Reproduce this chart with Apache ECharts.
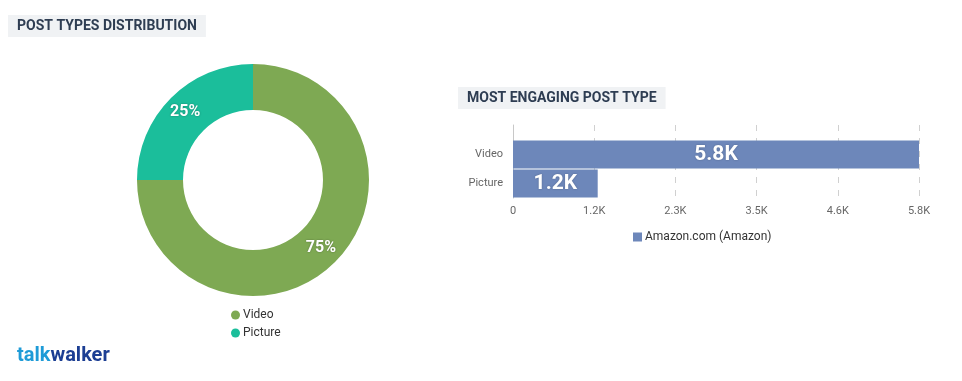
<!DOCTYPE html>
<html><head><meta charset="utf-8">
<script src="https://cdn.jsdelivr.net/npm/echarts@6/dist/echarts.min.js"></script>
<style>html,body{margin:0;padding:0;background:#fff}#c{width:962px;height:381px}</style>
</head><body><div id="c"></div>
<script>
const pieCategories = ['Video', 'Picture'];
const pieValues = [75, 25];
const pieColors = ['#7EA953', '#1BBE9B'];
const barCategories = ['Picture', 'Video'];
const barValues = [1210, 5800];
const barSeriesName = 'Amazon.com (Amazon)';
const axisMax = 5800;
const axisInterval = 1160;

function fmtK(v) { return v === 0 ? '0' : (v / 1000).toFixed(1) + 'K'; }

const chart = echarts.init(document.getElementById('c'));
const titleStyle = { fontFamily: 'Roboto', fontSize: 14, fontWeight: 'bold', color: '#2E3D52' };
const condensed = '"Liberation Sans Narrow", Roboto';
chart.setOption({
  animation: false,
  title: [
    { text: 'POST TYPES DISTRIBUTION', left: 8, top: 15, padding: [4, 9, 4, 9], backgroundColor: '#F0F2F4', textStyle: titleStyle },
    { text: 'MOST ENGAGING POST TYPE', left: 458, top: 87, padding: [4, 9, 4, 9], backgroundColor: '#F0F2F4', textStyle: titleStyle }
  ],
  legend: [
    { data: pieCategories, orient: 'vertical', left: 226, top: 304, icon: 'circle', itemWidth: 9, itemHeight: 9, itemGap: 6, textStyle: { fontFamily: 'Roboto', fontSize: 12, color: '#333', padding: [0, 0, 0, -2] } },
    { data: [barSeriesName], left: 628, top: 226, icon: 'rect', itemWidth: 9, itemHeight: 9, textStyle: { fontFamily: 'Roboto', fontSize: 12, color: '#333', padding: [0, 0, 0, -2] } }
  ],
  grid: [
    { left: 513, right: 43, top: 125, bottom: 183 },
    { left: 513, right: 43, top: 140, bottom: 183 }
  ],
  xAxis: [
    { gridIndex: 0, type: 'value', min: 0, max: axisMax, interval: axisInterval,
      axisLine: { show: false }, axisTick: { show: false },
      axisLabel: { formatter: fmtK, color: '#666', fontFamily: 'Roboto', fontSize: 11, margin: 8 },
      splitLine: { show: true, lineStyle: { color: '#D0D0D0', type: [6, 7], width: 1 } } },
    { gridIndex: 1, type: 'value', min: 0, max: axisMax, interval: axisInterval, show: false }
  ],
  yAxis: [
    { gridIndex: 0, type: 'category', data: [''], axisLine: { show: true, lineStyle: { color: '#C8C8C8' } }, axisTick: { show: false }, axisLabel: { show: false }, splitLine: { show: false } },
    { gridIndex: 1, type: 'category', data: barCategories, axisLine: { show: false }, axisTick: { show: false },
      axisLabel: { color: '#666', fontFamily: 'Roboto', fontSize: 11, margin: 10 } }
  ],
  series: [
    { type: 'pie', name: 'Post types', center: [253, 180], radius: [70, 116], startAngle: 90, clockwise: true,
      data: pieCategories.map((n, i) => ({ name: n, value: pieValues[i], itemStyle: { color: pieColors[i] } })),
      label: { show: true, position: 'inside', formatter: '{d}%', color: '#fff', fontFamily: condensed, fontWeight: 'bold', fontSize: 16,
        textShadowColor: 'rgba(0,0,0,0.35)', textShadowBlur: 2 },
      labelLine: { show: false }, emphasis: { disabled: true } },
    { type: 'bar', name: barSeriesName, xAxisIndex: 1, yAxisIndex: 1, data: barValues, barWidth: 28,
      itemStyle: { color: '#6D87BA' },
      label: { show: true, position: 'inside', formatter: p => fmtK(p.value), color: '#fff', fontFamily: condensed, fontWeight: 'bold', fontSize: 21,
        textShadowColor: 'rgba(0,0,0,0.25)', textShadowBlur: 2 } }
  ],
  graphic: [
    { type: 'text', left: 17, top: 346, style: { rich: { a: { fill: '#1E9BD7', fontFamily: 'Roboto', fontWeight: 'bold', fontSize: 20 }, b: { fill: '#1C3E93', fontFamily: 'Roboto', fontWeight: 'bold', fontSize: 20 } }, text: '{a|talk}{b|walker}' } }
  ]
});
</script></body></html>
